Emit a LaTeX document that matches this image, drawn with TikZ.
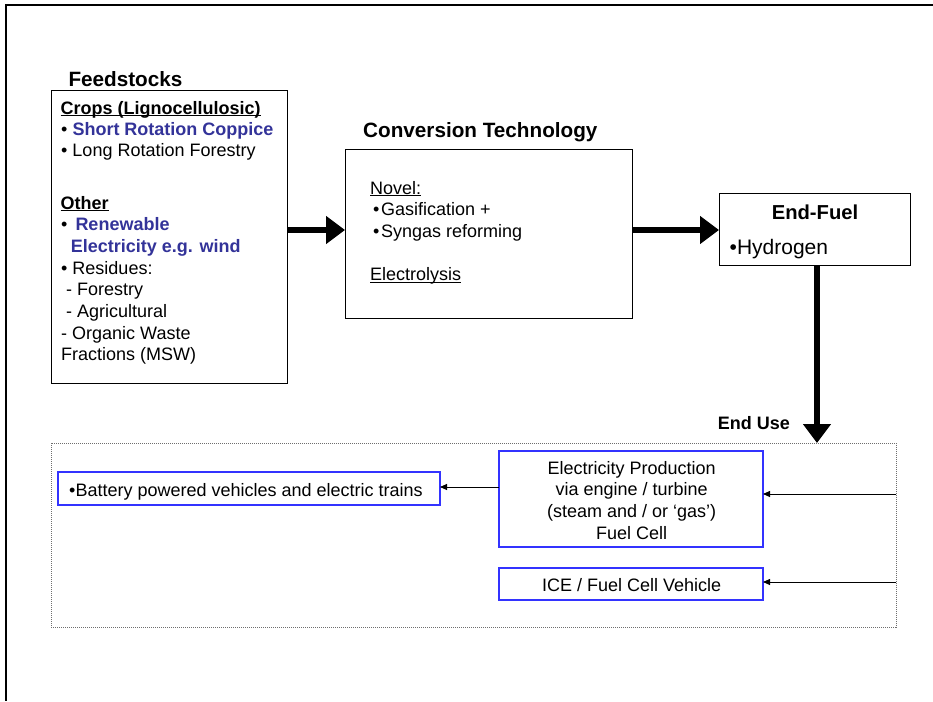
\documentclass[tikz,border=0pt]{standalone}
\usepackage{fontspec}
\setmainfont{Liberation Sans}
\usetikzlibrary{arrows.meta}
\definecolor{textblue}{RGB}{51,51,153}
\definecolor{boxblue}{RGB}{51,51,255}
\definecolor{dotgray}{RGB}{110,110,110}
% underline drawn close to the baseline
\newcommand\undl[1]{{\setbox0\hbox{#1}\rlap{\rule[-2.4pt]{\wd0}{1.1pt}}\box0}}
\begin{document}
\begin{tikzpicture}[x=1pt,y=-1pt,
  frame/.style={line width=2pt},
  box/.style={draw, line width=1pt, inner sep=0pt, outer sep=0pt, anchor=north west},
  bluebox/.style={draw=boxblue, line width=1.3pt, inner sep=0pt, outer sep=0pt, anchor=north west},
  dotbox/.style={draw=dotgray, line width=1pt, dash pattern=on 1pt off 1pt, inner sep=0pt, outer sep=0pt, anchor=north west},
  txt/.style={inner sep=0pt, anchor=base west, font=\fontsize{18}{21.6}\selectfont},
  ctxt/.style={inner sep=0pt, anchor=base, font=\fontsize{18}{21.6}\selectfont},
  title/.style={inner sep=0pt, anchor=base west, font=\fontsize{20.7}{24}\selectfont\bfseries},
  bigarrow/.style={line width=6.5pt, -{Triangle[length=19pt,width=27pt]}},
  smallarrow/.style={line width=0.9pt, -{Triangle[length=7pt,width=6pt]}}
]
\useasboundingbox (0,0) rectangle (933,701);

% page frame
\draw[frame] (933,5) -- (6,5) -- (6,701);

% boxes
\node[box, minimum width=236, minimum height=293] (feed) at (51,90) {};
\node[box, minimum width=287, minimum height=169] (conv) at (345,149) {};
\node[box, minimum width=191, minimum height=72] (efuel) at (719,193) {};
\node[dotbox, minimum width=845, minimum height=184] (enduse) at (51,443) {};
\node[bluebox, minimum width=382, minimum height=33] (batt) at (58,472) {};
\node[bluebox, minimum width=264, minimum height=96] (elec) at (499,451) {};
\node[bluebox, minimum width=264, minimum height=32] (ice) at (499,568) {};

% feedstocks
\node[title] (ftitle) at (68.3,86.5) {Feedstocks};
\node[txt] (f1) at (60.5,114) {\bfseries\undl{Crops (Lignocellulosic)}};
\node[txt] (f2) at (61,135.3) {• \textcolor{textblue}{\bfseries Short Rotation Coppice}};
\node[txt] (f3) at (61,156.7) {• Long Rotation Forestry};
\node[txt] (f4) at (60.5,209) {\bfseries\undl{Other}};
\node[txt] (f5) at (61,230.7) {•\hspace{8pt}\textcolor{textblue}{\bfseries Renewable}};
\node[txt] (f6) at (70.7,252.4) {\textcolor{textblue}{\bfseries Electricity e.g. wind}};
\node[txt] (f7) at (61,274.1) {• Residues:};
\node[txt] (f8) at (66,295.8) {- Forestry};
\node[txt] (f9) at (66,317.5) {- Agricultural};
\node[txt] (f10) at (61,339.2) {- Organic Waste};
\node[txt] (f11) at (61,360.9) {Fractions (MSW)};

% conversion technology
\node[title] (ctitle) at (363,137) {Conversion Technology};
\node[txt] (c1) at (370,194) {\undl{Novel:}};
\node[txt] (c2) at (373,215.5) {•\hspace{1.5pt}Gasification +};
\node[txt] (c3) at (373,237) {•\hspace{1.5pt}Syngas reforming};
\node[txt] (c4) at (370,280.5) {\undl{Electrolysis}};

% end fuel
\node[inner sep=0pt, anchor=base, font=\fontsize{20.2}{24}\selectfont\bfseries] (etitle) at (815,219) {End-Fuel};
\node[inner sep=0pt, anchor=base west, font=\fontsize{21}{24}\selectfont] (e1) at (729.5,254) {•Hydrogen};
\node[inner sep=0pt, anchor=base west, font=\fontsize{18}{21.6}\selectfont\bfseries] (eu) at (717.7,429.5) {End Use};

% end uses
\node[txt] (b1) at (69,496.5) {•Battery powered vehicles and electric trains};
\node[ctxt] (el1) at (631.7,474) {Electricity Production};
\node[ctxt] (el2) at (631.7,495.7) {via engine / turbine};
\node[ctxt] (el3) at (631.7,517.3) {(steam and / or `gas')};
\node[ctxt] (el4) at (631.7,539) {Fuel Cell};
\node[ctxt] (ic) at (631.7,591) {ICE / Fuel Cell Vehicle};

% connectors
\coordinate (midrow) at (0,230);
\coordinate (drop) at (817,443);
\coordinate (feedA) at (896,494);
\coordinate (feedB) at (896,582);
\coordinate (battrow) at (0,487);
\draw[bigarrow] (feed.east |- midrow) -- (conv.west |- midrow);
\draw[bigarrow] (conv.east |- midrow) -- (efuel.west |- midrow);
\draw[bigarrow] (efuel.south -| drop) -- (drop);
\draw[smallarrow] (feedA) -- (elec.east |- feedA);
\draw[smallarrow] (feedB) -- (ice.east |- feedB);
\draw[smallarrow] (elec.west |- battrow) -- (batt.east |- battrow);
\end{tikzpicture}
\end{document}
